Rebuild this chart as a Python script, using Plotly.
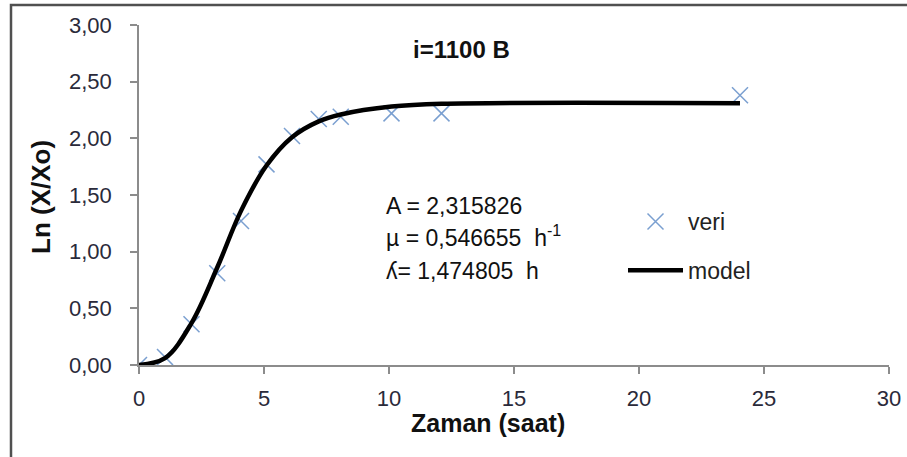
import plotly.graph_objects as go

# observed data (veri)
veri_t = [0.0, 1.04, 2.1, 3.13, 4.08, 5.1, 6.12, 7.19, 8.07, 10.1, 12.1, 24.04]
veri_y = [0.0, 0.07, 0.36, 0.81, 1.27, 1.77, 2.02, 2.17, 2.19, 2.22, 2.22, 2.38]

# model curve values
model_t = [0.0, 1.04, 2.1, 3.13, 4.08, 5.1, 6.12, 7.19, 8.07, 10.1, 12.1, 24.04]
model_y = [0.0, 0.06, 0.37, 0.86, 1.36, 1.76, 2.01, 2.15, 2.21, 2.28, 2.305, 2.31]

x_ticks = [0, 5, 10, 15, 20, 25, 30]
y_ticks = [0.0, 0.5, 1.0, 1.5, 2.0, 2.5, 3.0]

title_text = "i=1100 B"
x_title = "Zaman (saat)"
y_title = "Ln (X/Xo)"
param_lines = ["A = 2,315826", "\u00b5 = 0,546655  h<sup>-1</sup>", "\u028e= 1,474805  h"]

FONT = "Liberation Sans, Arial, sans-serif"
W, H = 907, 457
L, R, T, B = 139, 18, 25, 92

fig = go.Figure()
fig.add_trace(go.Scatter(
    x=veri_t, y=veri_y, mode="markers", name="veri", legendgroup="g1",
    marker=dict(symbol="x-thin", size=16, color="#7a9fd0",
                line=dict(width=1.5, color="#7a9fd0")),
))
fig.add_trace(go.Scatter(
    x=model_t, y=model_y, mode="lines", name="model", legendgroup="g2",
    line=dict(color="black", width=4.5, shape="spline", smoothing=1.0),
))

fig.update_layout(
    width=W, height=H,
    margin=dict(l=L, r=R, t=T, b=B),
    paper_bgcolor="white", plot_bgcolor="white",
    separators=",.",
    font=dict(family=FONT, size=22, color="#222222"),
    xaxis=dict(range=[0, 30], tickvals=x_ticks, showgrid=False, zeroline=False,
               showline=True, linecolor="#8c8c8c", linewidth=1.5,
               ticks="outside", ticklen=7, tickcolor="#8c8c8c", tickwidth=1.5,
               ticklabelstandoff=6, automargin=False,
               tickfont=dict(size=22, color="#2a2a3a")),
    yaxis=dict(range=[0, 3], tickvals=y_ticks, tickformat=".2f", showgrid=False,
               zeroline=False, showline=True, linecolor="#8c8c8c", linewidth=1.5,
               ticks="outside", ticklen=7, tickcolor="#8c8c8c", tickwidth=1.5,
               ticklabelstandoff=14, automargin=False,
               tickfont=dict(size=22, color="#2a2a3a")),
    legend=dict(x=(623 - L) / (W - L - R), y=(H - B - 200) / (H - T - B),
                xanchor="left", yanchor="top",
                bgcolor="rgba(0,0,0,0)", font=dict(size=23, color="#222222"),
                itemwidth=55, tracegroupgap=16),
    showlegend=True,
)

pw = W - L - R
ph = H - T - B
def px_x(px):
    return (px - L) / pw
def px_y(py):
    return (H - B - py) / ph

# outer chart frame
fig.add_shape(type="rect", xref="paper", yref="paper",
              x0=px_x(11), x1=px_x(912), y0=px_y(5), y1=px_y(470),
              line=dict(color="#505050", width=2.5), layer="below")

# axis titles placed as annotations for exact position
fig.add_annotation(text="<b>" + x_title + "</b>", xref="paper", yref="paper",
                   x=px_x(488), y=px_y(423), xanchor="center", yanchor="middle",
                   showarrow=False, font=dict(size=25, color="#111111"))
fig.add_annotation(text="<b>" + y_title + "</b>", xref="paper", yref="paper",
                   x=px_x(41), y=px_y(197), xanchor="center", yanchor="middle",
                   showarrow=False, textangle=-90,
                   font=dict(size=26, color="#111111"))

fig.add_annotation(text="<b>" + title_text + "</b>", xref="paper", yref="paper",
                   x=px_x(461), y=px_y(50), xanchor="center", yanchor="middle",
                   showarrow=False, font=dict(size=24, color="#111111"))
baselines = [215, 247, 280]
for t, b in zip(param_lines, baselines):
    fig.add_annotation(text=t, xref="paper", yref="paper", xanchor="left",
                       yanchor="bottom", x=px_x(384), y=px_y(b + 6), showarrow=False,
                       font=dict(size=23, color="#111111"))

fig.write_html("out.html")
